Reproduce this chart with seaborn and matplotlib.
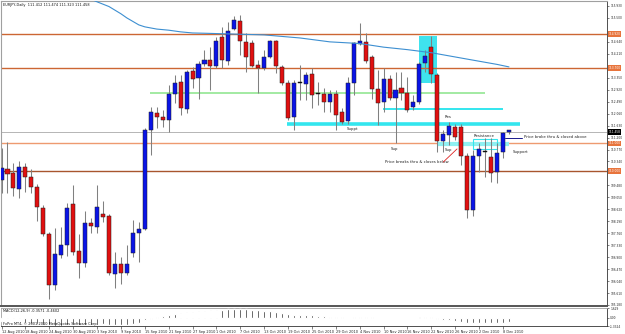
import matplotlib
matplotlib.use("Agg")
import matplotlib.pyplot as plt
from matplotlib.patches import Rectangle
import seaborn as sns
import numpy as np

# ---------------- data (EURJPY daily) ----------------
opens = [109.67, 110.07, 109.93, 109.35, 110.14, 109.78, 109.42, 108.67, 107.73, 105.90,
         106.98, 107.34, 108.81, 107.12, 106.69, 108.13, 107.98, 108.45, 108.38, 106.30,
         106.65, 106.33, 107.05, 107.77, 107.91, 111.47, 112.08, 111.94, 111.83, 112.77,
         113.20, 112.23, 113.59, 113.34, 113.84, 113.99, 113.77, 114.81, 113.95, 115.10,
         115.39, 114.64, 114.60, 113.81, 113.70, 114.10, 114.67, 113.74, 113.16, 111.94,
         113.16, 113.13, 113.49, 112.77, 112.77, 112.48, 112.77, 112.12, 111.80, 113.16,
         114.56, 114.64, 114.10, 112.95, 112.48, 113.30, 112.62, 112.98, 112.80, 112.30,
         112.48, 113.88, 114.46, 113.45, 111.08, 111.29, 111.58, 111.58, 110.54, 108.60,
         110.54, 110.68, 110.50, 109.96, 110.68, 111.412]
highs = [110.82, 111.04, 110.28, 110.36, 110.28, 110.07, 109.53, 108.78, 107.80, 107.95,
         107.98, 108.85, 109.49, 107.73, 108.56, 108.31, 109.49, 108.92, 108.45, 107.09,
         106.91, 107.34, 108.24, 108.16, 111.54, 112.30, 112.30, 112.19, 113.09, 113.45,
         113.45, 113.63, 113.74, 113.95, 114.35, 114.46, 114.81, 115.17, 115.35, 115.57,
         115.61, 114.96, 114.71, 113.99, 114.35, 114.71, 114.71, 113.81, 113.27, 113.27,
         113.81, 113.56, 113.70, 113.20, 112.98, 112.91, 112.91, 112.26, 113.38, 114.62,
         115.32, 114.96, 114.17, 113.63, 113.70, 113.45, 113.56, 113.56, 113.38, 112.73,
         113.92, 114.35, 114.85, 113.52, 111.47, 111.76, 111.69, 111.69, 110.64, 110.75,
         111.00, 111.18, 111.18, 111.00, 111.40, 111.474]
lows = [109.21, 109.21, 109.10, 109.03, 109.24, 109.21, 108.20, 107.66, 105.40, 105.72,
        106.87, 106.94, 106.98, 106.15, 106.55, 107.77, 107.77, 108.16, 106.26, 105.79,
        105.94, 106.26, 106.91, 106.73, 107.88, 110.57, 111.54, 111.58, 111.40, 112.44,
        112.01, 112.08, 112.98, 112.59, 113.77, 112.91, 113.70, 113.70, 113.81, 115.07,
        114.17, 113.56, 113.74, 112.80, 113.63, 114.06, 113.52, 113.09, 111.83, 111.47,
        112.55, 112.55, 112.26, 112.37, 112.12, 112.12, 111.47, 111.69, 111.69, 112.73,
        114.53, 113.88, 112.59, 111.65, 112.12, 112.55, 111.00, 112.55, 112.12, 112.19,
        112.41, 113.56, 113.16, 110.68, 110.68, 110.93, 111.11, 110.21, 108.31, 108.38,
        109.96, 109.78, 109.60, 109.57, 110.46, 111.323]
closes = [110.10, 109.89, 109.39, 110.14, 109.78, 109.42, 108.70, 107.73, 105.90, 107.01,
          107.34, 108.67, 107.09, 106.69, 108.13, 108.02, 108.70, 108.34, 106.33, 106.65,
          106.33, 106.65, 107.77, 107.91, 111.47, 112.12, 111.94, 111.83, 112.77, 113.16,
          112.26, 113.56, 113.30, 113.84, 113.99, 113.77, 114.67, 113.99, 115.03, 115.43,
          114.67, 114.10, 113.77, 113.70, 114.10, 114.67, 113.77, 113.16, 111.90, 113.16,
          113.16, 113.45, 112.73, 112.77, 112.48, 112.77, 112.01, 111.76, 113.16, 114.60,
          114.67, 113.95, 112.95, 112.44, 113.30, 112.62, 112.91, 112.80, 112.19, 112.48,
          113.84, 114.13, 113.49, 111.08, 111.33, 111.62, 111.22, 110.54, 108.60, 110.54,
          110.79, 110.68, 109.93, 110.64, 111.36, 111.458]

# moving average line (bar index, price)
ma_bar = [14, 15, 16, 18, 20, 21, 23, 24, 26, 28, 30, 32, 34, 39, 44, 50, 55, 60,
          64, 68, 72, 78, 83, 85]
ma_val = [116.40, 116.17, 116.08, 115.91, 115.65, 115.50, 115.25, 115.18, 115.10, 115.06,
          115.00, 114.96, 114.95, 114.92, 114.89, 114.78, 114.64, 114.58, 114.45, 114.36,
          114.25, 114.02, 113.83, 113.74]

# MACD main (histogram)
macd = [-0.55, -0.60, -0.65, -0.75, -0.85, -0.95, -1.05, -1.15, -1.25, -1.28,
        -1.28, -1.25, -1.25, -1.25, -1.20, -1.15, -1.10, -1.05, -1.10, -1.15,
        -1.15, -1.10, -1.00, -0.85, -0.40, -0.10, 0.15, 0.35, 0.55, 0.70,
        0.80, 0.95, 1.05, 1.15, 1.20, 1.25, 1.32, 1.35, 1.42, 1.48,
        1.50, 1.45, 1.38, 1.30, 1.20, 1.10, 1.00, 0.85, 0.65, 0.55,
        0.50, 0.45, 0.40, 0.35, 0.30, 0.22, 0.15, 0.08, 0.05, 0.15,
        0.22, 0.22, 0.12, 0.06, 0.05, 0.04, 0.03, 0.03, 0.02, 0.02,
        0.08, 0.10, 0.08, -0.15, -0.30, -0.40, -0.50, -0.65, -0.85, -0.88,
        -0.88, -0.88, -0.90, -0.88, -0.85, -0.72]

date_labels = ["12 Aug 2010", "18 Aug 2010", "24 Aug 2010", "30 Aug 2010", "3 Sep 2010",
               "9 Sep 2010", "15 Sep 2010", "21 Sep 2010", "27 Sep 2010", "1 Oct 2010",
               "7 Oct 2010", "13 Oct 2010", "19 Oct 2010", "25 Oct 2010", "29 Oct 2010",
               "4 Nov 2010", "10 Nov 2010", "16 Nov 2010", "22 Nov 2010", "26 Nov 2010",
               "2 Dec 2010", "8 Dec 2010"]
date_bars = list(range(0, 88, 4))

price_ticks = [105.18 + 0.43 * k for k in range(26)]
macd_ticks = [-1.3324, 0.0, 1.629]
macd_tick_labels = ["-1.3324", "0.00", "1.629"]

level_lines = [114.92, 113.70, 111.00, 110.00]
level_labels = ["114.920", "113.700", "111.000", "110.000"]
level_colors = ["#cc6633", "#cc6633", "#ee9a70", "#a8552e"]
bid_price = 111.40
bid_label = "111.458"

# ---------------- figure ----------------
sns.set_theme(style="white")
plt.rcParams['font.family'] = ['DejaVu Sans']

W, H = 625, 334
RIGHT = 607          # pixel column of the price axis
fig = plt.figure(figsize=(W / 100, H / 100), dpi=100)
fig.patch.set_facecolor("white")
ax = fig.add_axes([1 / W, 28 / H, (RIGHT - 1) / W, 305 / H])
ax2 = fig.add_axes([1 / W, 8 / H, (RIGHT - 1) / W, 18 / H])

xmin, xmax = -0.084, (RIGHT - 1.5) / 5.97
for a in (ax, ax2):
    a.set_facecolor("white")
    a.set_xlim(xmin, xmax)
ax.set_ylim(105.144, 116.109)
ax2.set_ylim(-1.3324, 1.629)

idx = np.arange(len(opens))
o = np.array(opens); c = np.array(closes)
hi = np.array(highs); lo = np.array(lows)

# background objects
ax.add_patch(Rectangle((69.9, 113.16), 3.1, 1.69, fc="#3fe3ee", ec="none", zorder=1))
for lv, col in zip(level_lines, level_colors):
    ax.axhline(lv, color=col, lw=1.0, zorder=1.5)
ax.axhline(bid_price, color="#b5b5b5", lw=0.7, zorder=1.4)
ax.hlines(112.80, 24.9, 81.0, color="#9be89b", lw=1.3, zorder=1.5)
ax.hlines(111.67, 47.8, 86.9, color="#33e6ee", lw=2.6, zorder=1.6)
ax.hlines(112.23, 63.9, 84.0, color="#33e6ee", lw=1.4, zorder=1.6)
ax.hlines(110.97, 73.0, 85.0, color="#8ff0f2", lw=3.0, zorder=1.6)
ax.add_patch(Rectangle((79.0, 110.79), 4.0, 0.36, fc="none", ec="#33e6ee", lw=0.8, zorder=1.7))

# candles
ax.vlines(idx, lo, hi, color="#808080", lw=0.75, zorder=3)
cols = np.where(c > o, "#0a14e6", np.where(c < o, "#e01010", "#000000"))
body = np.maximum(np.abs(c - o), 0.02)
ax.bar(idx, body, bottom=np.minimum(o, c), width=0.68, color=cols,
       edgecolor="#202020", linewidth=0.35, zorder=4)

# moving average
sns.lineplot(x=ma_bar, y=ma_val, ax=ax, color="#3d8fd1", lw=0.8, zorder=5, legend=False)

# annotations
fs = 2.8
ax.text(57.9, 111.51, "Suppt", fontsize=fs, va="center", color="#222")
ax.text(65.2, 110.79, "Sup", fontsize=fs, va="center", color="#222")
ax.text(74.2, 111.94, "Res", fontsize=fs, va="center", color="#222")
ax.text(74.2, 110.75, "Sup", fontsize=fs, va="center", color="#222")
ax.text(79.0, 111.24, "Resistance", fontsize=fs, va="center", color="#222")
ax.text(87.5, 111.22, "Price broke thru & closed above", fontsize=fs, va="center", color="#222")
ax.text(85.7, 110.68, "Support", fontsize=fs, va="center", color="#222")
ax.text(64.2, 110.32, "Price breaks thru & closes below", fontsize=fs, va="center", color="#222")
ax.plot([74.0, 76.3], [110.32, 110.79], color="#dd2222", lw=0.6, zorder=6)
ax.plot([84.3, 87.2], [111.18, 111.18], color="#1a1a8c", lw=0.7, zorder=6)

ax.text(0.004, 0.993, "EURJPY,Daily  111.412 111.474 111.323 111.458", transform=ax.transAxes,
        fontsize=2.5, va="top", ha="left", color="#111")

# right price axis (labels hidden where a highlighted level label sits)
marked = level_lines + [bid_price]
shown = [t for t in price_ticks if min(abs(t - m) for m in marked) > 0.16]
ax.yaxis.tick_right()
ax.set_yticks(shown)
ax.set_yticklabels([f"{t:.3f}" for t in shown])
ax.tick_params(axis="y", right=True, left=False, length=1.5, width=0.4, pad=0.8,
               labelsize=2.1, colors="#222")
ax.set_xticks([])
for lv, lab, col in zip(level_lines, level_labels, level_colors):
    ax.annotate(lab, xy=(1.0, lv), xycoords=("axes fraction", "data"), xytext=(1.0, 0),
                textcoords="offset points", fontsize=2.1, color="white", va="center",
                bbox=dict(boxstyle="square,pad=0.2", fc="#e8743c", ec="none"), zorder=10,
                annotation_clip=False)
ax.annotate(bid_label, xy=(1.0, bid_price), xycoords=("axes fraction", "data"), xytext=(1.0, 0),
            textcoords="offset points", fontsize=2.1, color="white", va="center",
            bbox=dict(boxstyle="square,pad=0.2", fc="#000000", ec="none"), zorder=10,
            annotation_clip=False)

for s in ["left", "top"]:
    ax.spines[s].set_color("#a0a0a0"); ax.spines[s].set_linewidth(0.8)
ax.spines["right"].set_color("#333"); ax.spines["right"].set_linewidth(0.6)
ax.spines["bottom"].set_color("#555"); ax.spines["bottom"].set_linewidth(1.4)

# MACD pane
ax2.bar(idx, macd, width=0.3, color="#111111", zorder=3)
ax2.yaxis.tick_right()
ax2.set_yticks(macd_ticks)
ax2.set_yticklabels(macd_tick_labels)
ax2.tick_params(axis="y", right=True, left=False, length=1.5, width=0.4, pad=0.8,
                labelsize=2.1, colors="#222")
ax2.set_xticks(date_bars[:len(date_labels)])
ax2.set_xticklabels(date_labels, ha="left")
ax2.tick_params(axis="x", bottom=True, length=2, width=0.4, pad=1.0, labelsize=2.5, colors="#222")
ax2.text(0.004, 0.83, "MACD(12,26,9) -0.3571 -0.4602", transform=ax2.transAxes,
         fontsize=2.5, va="center", ha="left", color="#111")
ax2.text(0.004, 0.11, "FxPro MT4, \u00a9 2001-2010 MetaQuotes Software Corp.",
         transform=ax2.transAxes, fontsize=2.5, va="center", ha="left", color="#111")
for s in ["left", "top"]:
    ax2.spines[s].set_color("#a0a0a0"); ax2.spines[s].set_linewidth(0.6)
ax2.spines["right"].set_color("#333"); ax2.spines["right"].set_linewidth(0.6)
ax2.spines["bottom"].set_color("#333"); ax2.spines["bottom"].set_linewidth(0.6)

fig.savefig("out.png", dpi=100, facecolor="white")
